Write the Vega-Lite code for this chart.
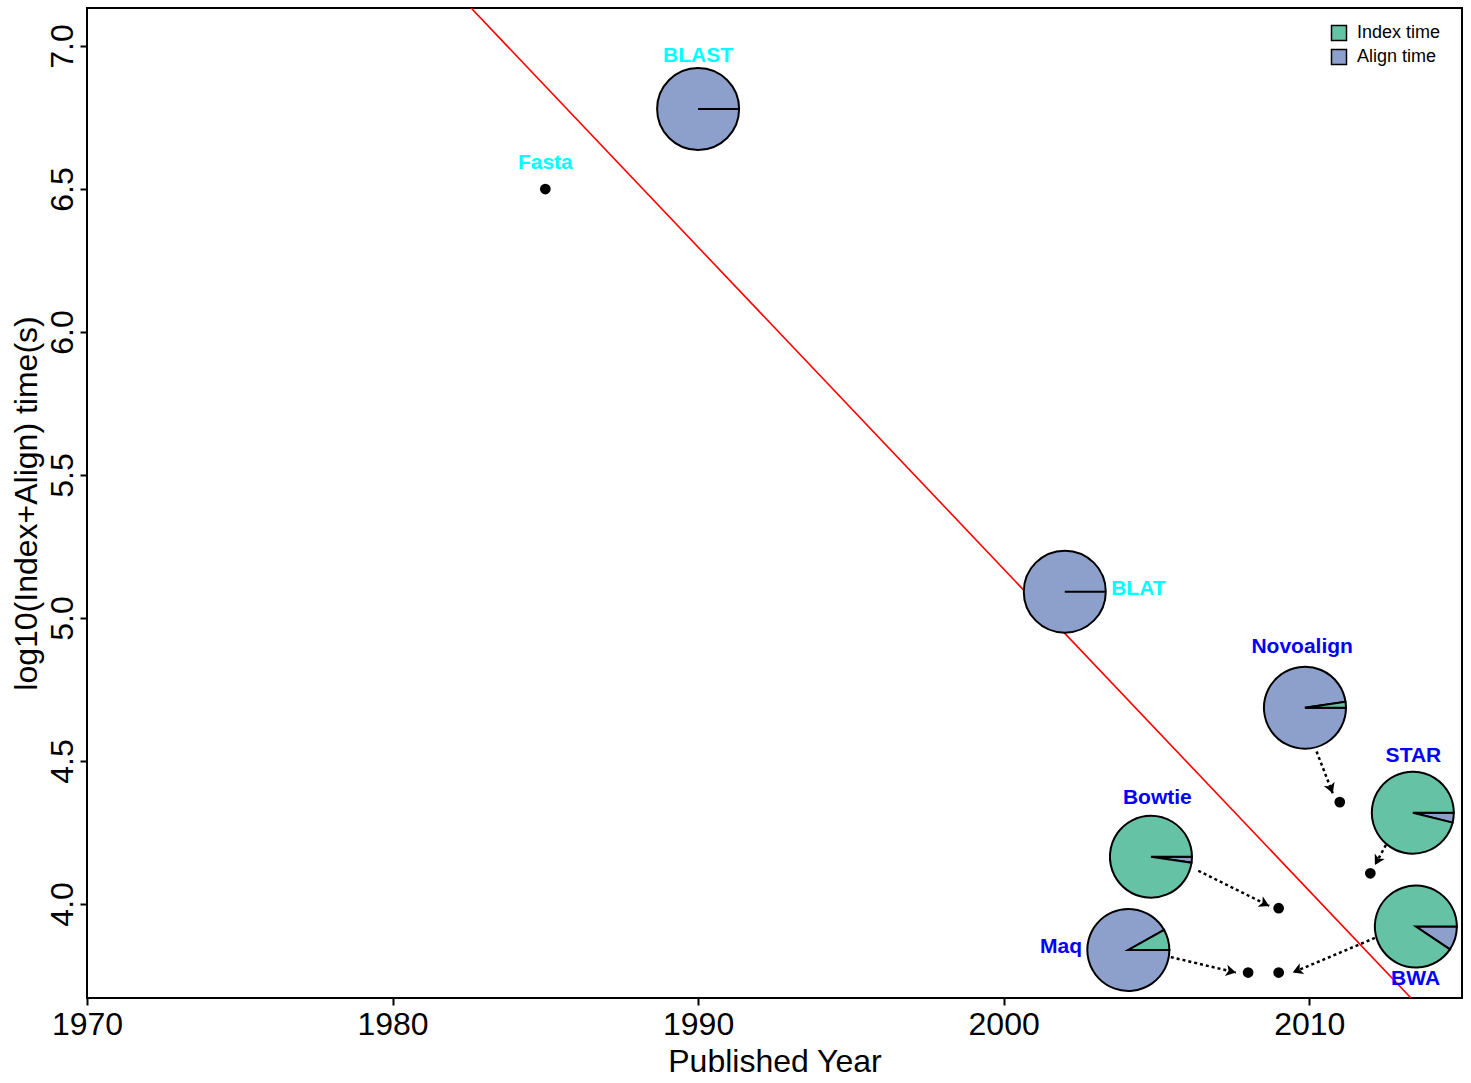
{
  "$schema": "https://vega.github.io/schema/vega-lite/v6.json",
  "width": 1375,
  "height": 990,
  "autosize": {"type": "none"},
  "padding": {"left": 87, "top": 8, "right": 9, "bottom": 85},
  "background": "white",
  "title": {
    "text": "Human",
    "orient": "top",
    "anchor": "middle",
    "frame": "group",
    "baseline": "bottom",
    "offset": 0,
    "dy": 5.5,
    "font": "Liberation Sans",
    "fontSize": 37,
    "fontWeight": "bold",
    "color": "black"
  },
  "datasets": {
    "trend": [
      {"year": 1982.57, "time": 7.133},
      {"year": 2013.33, "time": 3.671}
    ],
    "pies": [
      {"tool": "BLAST", "year": 1990, "time": 6.780, "part": "Align time", "share": 1},
      {"tool": "BLAT", "year": 2002, "time": 5.092, "part": "Align time", "share": 1},
      {"tool": "Novoalign", "year": 2009.86, "time": 4.686, "part": "Align time", "share": 0.977},
      {"tool": "STAR", "year": 2013.39, "time": 4.319, "part": "Align time", "share": 0.039},
      {"tool": "Bowtie", "year": 2004.82, "time": 4.165, "part": "Align time", "share": 0.023},
      {"tool": "Maq", "year": 2004.08, "time": 3.839, "part": "Align time", "share": 0.919},
      {"tool": "BWA", "year": 2013.49, "time": 3.921, "part": "Align time", "share": 0.094},
      {"tool": "BLAST", "year": 1990, "time": 6.780, "part": "Index time", "share": 0},
      {"tool": "BLAT", "year": 2002, "time": 5.092, "part": "Index time", "share": 0},
      {"tool": "Novoalign", "year": 2009.86, "time": 4.686, "part": "Index time", "share": 0.023},
      {"tool": "STAR", "year": 2013.39, "time": 4.319, "part": "Index time", "share": 0.961},
      {"tool": "Bowtie", "year": 2004.82, "time": 4.165, "part": "Index time", "share": 0.977},
      {"tool": "Maq", "year": 2004.08, "time": 3.839, "part": "Index time", "share": 0.081},
      {"tool": "BWA", "year": 2013.49, "time": 3.921, "part": "Index time", "share": 0.906}
    ],
    "points": [
      {"tool": "Fasta", "year": 1985, "time": 6.5},
      {"tool": "Novoalign", "year": 2011, "time": 4.356},
      {"tool": "STAR", "year": 2012, "time": 4.107},
      {"tool": "Bowtie", "year": 2009, "time": 3.985},
      {"tool": "Maq", "year": 2008, "time": 3.760},
      {"tool": "BWA", "year": 2009, "time": 3.760}
    ],
    "arrows": [
      {"tool": "Novoalign", "year": 2010.24, "time": 4.533, "year2": 2010.77, "time2": 4.387},
      {"tool": "STAR", "year": 2012.51, "time": 4.206, "year2": 2012.15, "time2": 4.136},
      {"tool": "Bowtie", "year": 2006.37, "time": 4.116, "year2": 2008.69, "time2": 3.993},
      {"tool": "Maq", "year": 2005.47, "time": 3.814, "year2": 2007.60, "time2": 3.760},
      {"tool": "BWA", "year": 2012.15, "time": 3.881, "year2": 2009.46, "time2": 3.760}
    ],
    "heads": [
      {"tool": "Novoalign", "year": 2010.77, "time": 4.387, "heading": 159},
      {"tool": "STAR", "year": 2012.15, "time": 4.136, "heading": 209},
      {"tool": "Bowtie", "year": 2008.69, "time": 3.993, "heading": 116},
      {"tool": "Maq", "year": 2007.60, "time": 3.760, "heading": 103},
      {"tool": "BWA", "year": 2009.46, "time": 3.760, "heading": 247}
    ],
    "labels": [
      {"tool": "Fasta", "year": 1985.0, "time": 6.590, "kind": "classic"},
      {"tool": "BLAST", "year": 1990.0, "time": 6.966, "kind": "classic"},
      {"tool": "BLAT", "year": 2004.41, "time": 5.101, "kind": "classic"},
      {"tool": "Novoalign", "year": 2009.77, "time": 4.897, "kind": "NGS"},
      {"tool": "STAR", "year": 2013.41, "time": 4.519, "kind": "NGS"},
      {"tool": "Bowtie", "year": 2005.03, "time": 4.369, "kind": "NGS"},
      {"tool": "Maq", "year": 2001.88, "time": 3.851, "kind": "NGS"},
      {"tool": "BWA", "year": 2013.48, "time": 3.737, "kind": "NGS"}
    ]
  },
  "encoding": {
    "x": {
      "field": "year",
      "type": "quantitative",
      "scale": {"domain": [1970, 2015], "nice": false, "zero": false},
      "axis": {
        "title": "Published Year",
        "values": [1970, 1980, 1990, 2000, 2010],
        "format": "d",
        "labelPadding": 4.5,
        "titleX": 687.5,
        "titleY": 73,
        "titleAlign": "center",
        "titleBaseline": "alphabetic"
      }
    },
    "y": {
      "field": "time",
      "type": "quantitative",
      "scale": {"domain": [3.671, 7.133], "nice": false, "zero": false},
      "axis": {
        "title": "log10(Index+Align) time(s)",
        "values": [4, 4.5, 5, 5.5, 6, 6.5, 7],
        "format": ".1f",
        "labelAngle": 270,
        "labelAlign": "center",
        "labelBaseline": "alphabetic",
        "labelPadding": 8,
        "titleAngle": 270,
        "titleX": -51,
        "titleY": 495,
        "titleAlign": "center",
        "titleBaseline": "alphabetic"
      }
    }
  },
  "layer": [
    {
      "data": {"name": "trend"},
      "mark": {"type": "line", "color": "#FF0000", "strokeWidth": 1.6, "clip": true},
      "encoding": {}
    },
    {
      "data": {"name": "arrows"},
      "mark": {"type": "rule", "color": "black", "strokeWidth": 2.5, "strokeDash": [3, 3]},
      "encoding": {
        "x2": {"field": "year2"},
        "y2": {"field": "time2"}
      }
    },
    {
      "data": {"name": "heads"},
      "mark": {"type": "point", "shape": "M0,0L-1.15,2L0,1.5L1.15,2Z", "filled": true, "color": "black", "opacity": 1, "size": 100},
      "encoding": {
        "angle": {"field": "heading", "type": "quantitative", "scale": null}
      }
    },
    {
      "data": {"name": "points"},
      "mark": {"type": "circle", "color": "black", "opacity": 1, "size": 115}
    },
    {
      "data": {"name": "pies"},
      "transform": [
        {"stack": "share", "groupby": ["tool"], "offset": "normalize", "sort": [{"field": "part", "order": "descending"}], "as": ["s0", "s1"]}
      ],
      "mark": {"type": "arc", "radius": 41, "stroke": "black", "strokeWidth": 2},
      "encoding": {
        "theta": {"field": "s0", "type": "quantitative", "scale": {"domain": [0, 1], "range": [1.5708, -4.7124]}},
        "theta2": {"field": "s1"},
        "color": {
          "field": "part",
          "type": "nominal",
          "scale": {"domain": ["Index time", "Align time"], "range": ["#66C2A5", "#8DA0CB"]},
          "legend": {
            "title": null,
            "orient": "none",
            "legendX": 1243,
            "legendY": 16,
            "symbolType": "square",
            "symbolSize": 225,
            "symbolStrokeColor": "black",
            "symbolStrokeWidth": 1.5,
            "symbolOpacity": 1,
            "labelFont": "Liberation Sans",
            "labelFontSize": 18,
            "labelColor": "black",
            "labelOffset": 9,
            "rowPadding": 2,
            "padding": 0
          }
        }
      }
    },
    {
      "data": {"name": "labels"},
      "mark": {"type": "text", "font": "Liberation Sans", "fontSize": 21, "fontWeight": "bold", "align": "center", "baseline": "middle"},
      "encoding": {
        "text": {"field": "tool", "type": "nominal"},
        "color": {"condition": {"test": "datum.kind === 'NGS'", "value": "#0000FF"}, "value": "#00FFFF"}
      }
    }
  ],
  "config": {
    "view": {"stroke": "black", "strokeWidth": 2},
    "axis": {
      "domain": false,
      "grid": false,
      "ticks": true,
      "tickColor": "black",
      "tickWidth": 2,
      "tickSize": 7,
      "labelFont": "Liberation Sans",
      "labelFontSize": 32,
      "labelColor": "black",
      "labelFlush": false,
      "labelOverlap": false,
      "labelBound": false,
      "titleFont": "Liberation Sans",
      "titleFontSize": 32,
      "titleFontWeight": "normal",
      "titleColor": "black"
    }
  }
}
